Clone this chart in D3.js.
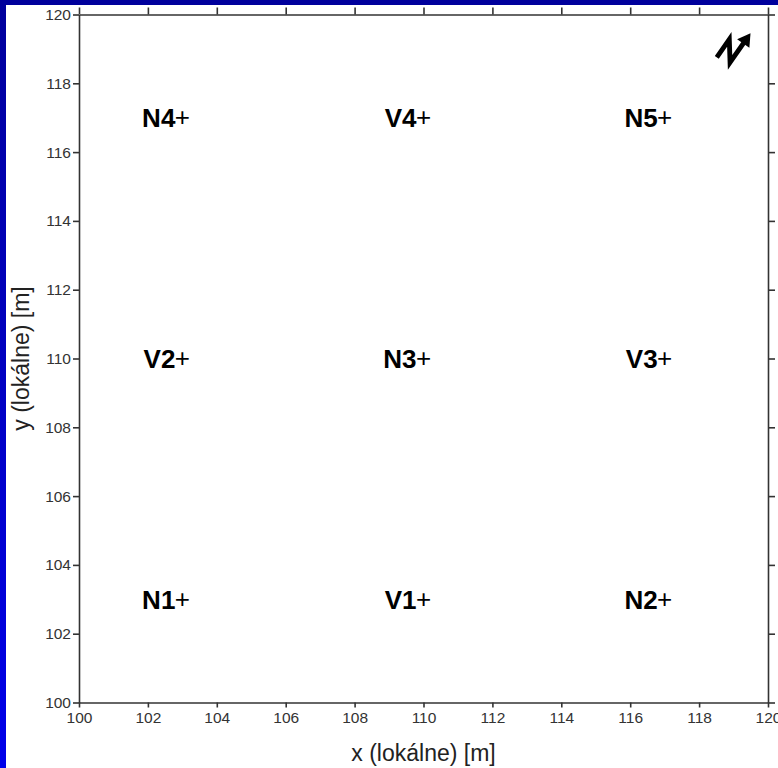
<!DOCTYPE html>
<html>
<head>
<meta charset="utf-8">
<script src="https://cdn.jsdelivr.net/npm/d3@7"></script>
<style>
  html, body { margin: 0; padding: 0; }
  body { width: 778px; height: 768px; overflow: hidden; }
  svg { display: block; font-family: "Liberation Sans", Arial, sans-serif; }
</style>
</head>
<body>
<svg id="chart" width="778" height="768"></svg>
<script>
// data: point names and local coordinates
var pointNames = ["N4", "V4", "N5", "V2", "N3", "V3", "N1", "V1", "N2"];
var pointX = [103, 110, 117, 103, 110, 117, 103, 110, 117];
var pointY = [117, 117, 117, 110, 110, 110, 103, 103, 103];
var tickValues = [100, 102, 104, 106, 108, 110, 112, 114, 116, 118, 120];
var xTitle = "x (lokálne) [m]";
var yTitle = "y (lokálne) [m]";

var W = 778, H = 768;
var margin = {top: 14.5, right: 10, bottom: 65.5, left: 79};

var svg = d3.select("#chart");

// blue frame with a slight gradient, white paper on top
var defs = svg.append("defs");
var grad = defs.append("linearGradient")
  .attr("id", "bg").attr("x1", 0).attr("y1", 0).attr("x2", 0).attr("y2", 1);
grad.append("stop").attr("offset", "0%").attr("stop-color", "#00009c");
grad.append("stop").attr("offset", "100%").attr("stop-color", "#0000ea");

svg.append("rect").attr("width", W).attr("height", H).attr("fill", "url(#bg)");
svg.append("rect").attr("x", 6).attr("y", 5).attr("width", W - 6).attr("height", H - 5).attr("fill", "#fff");

var x = d3.scaleLinear().domain([100, 120]).range([margin.left, W - margin.right]);
var y = d3.scaleLinear().domain([100, 120]).range([H - margin.bottom, margin.top]);

function styleAxis(g) {
  g.selectAll("path").attr("stroke", "#333").attr("stroke-width", 1.6);
  g.selectAll("line").attr("stroke", "#333").attr("stroke-width", 1.6);
  g.selectAll("text").attr("fill", "#333").style("font-size", "15.5px")
    .style("font-family", "'Liberation Sans', Arial, sans-serif");
}

// bottom + left with labels
svg.append("g")
  .attr("transform", "translate(0," + y(100) + ")")
  .call(d3.axisBottom(x).tickValues(tickValues).tickSize(5).tickSizeOuter(0).tickPadding(4))
  .call(styleAxis);

svg.append("g")
  .attr("transform", "translate(" + x(100) + ",0)")
  .call(d3.axisLeft(y).tickValues(tickValues).tickSize(6).tickSizeOuter(0).tickPadding(2))
  .call(styleAxis);

// top + right, ticks only
svg.append("g")
  .attr("transform", "translate(0," + y(120) + ")")
  .call(d3.axisTop(x).tickValues(tickValues).tickSize(7).tickSizeOuter(0).tickFormat(""))
  .call(styleAxis);

svg.append("g")
  .attr("transform", "translate(" + x(120) + ",0)")
  .call(d3.axisRight(y).tickValues(tickValues).tickSize(7).tickSizeOuter(0).tickFormat(""))
  .call(styleAxis);

// axis titles
svg.append("text")
  .attr("x", (x(100) + x(120)) / 2)
  .attr("y", 761)
  .attr("text-anchor", "middle")
  .attr("fill", "#222")
  .style("font-size", "23px")
  .text(xTitle);

svg.append("text")
  .attr("transform", "translate(29," + (y(100) + y(120)) / 2 + ") rotate(-90)")
  .attr("text-anchor", "middle")
  .attr("fill", "#222")
  .style("font-size", "23px")
  .text(yTitle);

// point labels: bold name + thin cross at the point
var fs = 26;
var pts = svg.append("g").selectAll("g")
  .data(pointNames.map(function(n, i) { return {name: n, x: pointX[i], y: pointY[i]}; }))
  .join("g")
  .attr("transform", function(d) { return "translate(" + x(d.x) + "," + y(d.y) + ")"; });

pts.append("text")
  .attr("x", -7)
  .attr("y", fs * 0.36)
  .attr("text-anchor", "end")
  .attr("fill", "#000")
  .style("font-size", fs + "px")
  .style("font-weight", "bold")
  .text(function(d) { return d.name; });

pts.append("text")
  .attr("x", 0)
  .attr("y", fs * 0.33)
  .attr("text-anchor", "middle")
  .attr("fill", "#000")
  .style("font-size", fs + "px")
  .text("+");

// north arrow (rotated N with arrow head)
var na = svg.append("g")
  .attr("transform", "translate(731,49) rotate(35) scale(1.15)");
na.append("path")
  .attr("d", "M-6,13 L-6,-6 L6,10 L6,-12")
  .attr("fill", "none")
  .attr("stroke", "#000")
  .attr("stroke-width", 4.2)
  .attr("stroke-linejoin", "miter");
na.append("path")
  .attr("d", "M6,-21 L-0.5,-10 L12.5,-10 Z")
  .attr("fill", "#000");
</script>
</body>
</html>
